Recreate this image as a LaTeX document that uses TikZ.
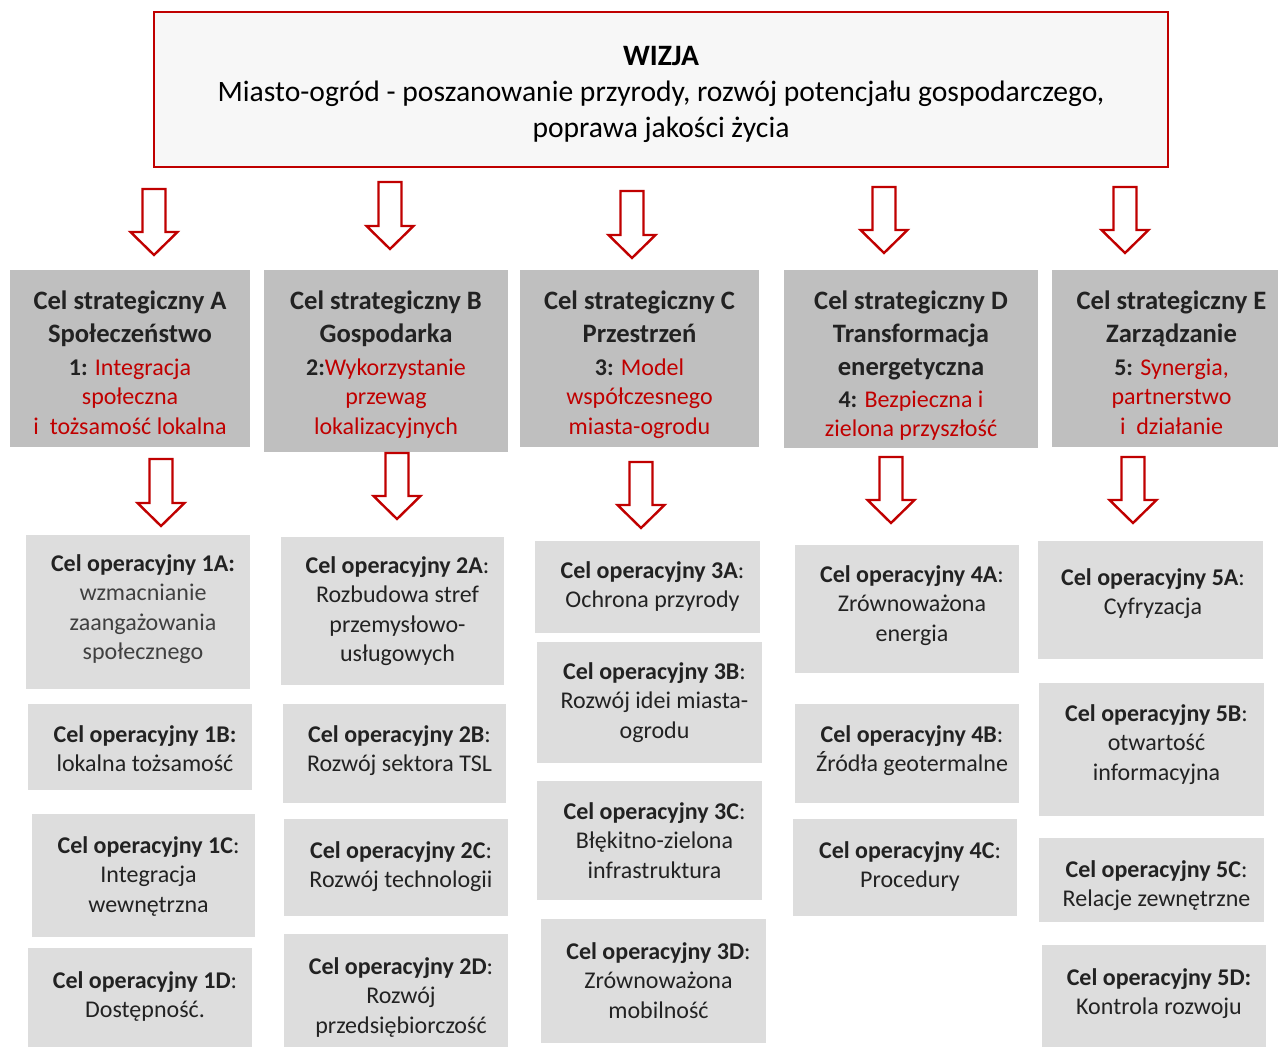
\documentclass[tikz,border=0pt]{standalone}
\usepackage{fontspec}
\setmainfont{Carlito}
\usetikzlibrary{positioning}

\definecolor{czerwony}{HTML}{C00000}
\definecolor{szaryciemny}{HTML}{BFBFBF}
\definecolor{szaryjasny}{HTML}{DDDDDD}
\definecolor{tlowizji}{HTML}{F7F7F7}
\definecolor{tekst}{HTML}{222222}
\definecolor{szarytekst}{HTML}{404040}

\newcommand{\tytul}[1]{{\fontsize{13.3}{16}\selectfont\bfseries #1}}
\newcommand{\czerw}[1]{\textcolor{czerwony}{#1}}

\begin{document}
\begin{tikzpicture}[x=0.5pt, y=-0.5pt,
            wizja/.style={draw=czerwony, line width=1.4pt, fill=tlowizji, inner sep=0pt},
            wizjatekst/.style={align=center, inner sep=0pt, text=black, font=\fontsize{14.8}{18}\selectfont},
            strategiczny/.style={fill=szaryciemny, inner sep=0pt},
            opbox/.style={fill=szaryjasny, inner sep=0pt},
            napis/.style={align=center, inner sep=0pt, text=tekst, font=\fontsize{12}{14.75}\selectfont},
            opnapis/.style={napis, xshift=2.5pt},
            strzalka/.style={draw=czerwony, fill=white, line width=1.2pt, line join=miter},]

        \useasboundingbox (0,0) rectangle (1278,1047);
        \clip (0,0) rectangle (1278,1047);

        % Wizja
        \node[wizja, minimum width=507pt, minimum height=77.5pt] (wizja) at (661,89.5) {};
        \node[wizjatekst, below=17.85pt of wizja.north] (wizja-t)
            {\textbf{WIZJA}\\ Miasto-ogród - poszanowanie przyrody, rozwój potencjału gospodarczego,\\ poprawa jakości życia};

        % Cele strategiczne
        \node[strategiczny, minimum width=120pt, minimum height=88.5pt] (celA) at (130,358.5) {};
        \node[napis, below=10.2pt of celA.north] (celA-t)
            {\tytul{Cel strategiczny A}\\[1.75pt] \tytul{Społeczeństwo}\\[1.75pt]
             \textbf{1:} \czerw{Integracja}\\ \czerw{społeczna}\\ \czerw{i~~tożsamość lokalna}};
        \node[strategiczny, minimum width=122pt, minimum height=91pt] (celB) at (386,361) {};
        \node[napis, below=10.2pt of celB.north] (celB-t)
            {\tytul{Cel strategiczny B}\\[1.75pt] \tytul{Gospodarka}\\[1.75pt]
             \textbf{2:}\czerw{Wykorzystanie}\\ \czerw{przewag}\\ \czerw{lokalizacyjnych}};
        \node[strategiczny, minimum width=119.5pt, minimum height=88.5pt] (celC) at (639.5,358.5) {};
        \node[napis, below=10.2pt of celC.north] (celC-t)
            {\tytul{Cel strategiczny C}\\[1.75pt] \tytul{Przestrzeń}\\[1.75pt]
             \textbf{3:} \czerw{Model}\\ \czerw{współczesnego}\\ \czerw{miasta-ogrodu}};
        \node[strategiczny, minimum width=127pt, minimum height=89pt] (celD) at (911,359) {};
        \node[napis, below=10.2pt of celD.north] (celD-t)
            {\tytul{Cel strategiczny D}\\[1.75pt] \tytul{Transformacja}\\[1.75pt] \tytul{energetyczna}\\[1.25pt]
             \textbf{4:} \czerw{Bezpieczna i}\\ \czerw{zielona przyszłość}};
        \node[strategiczny, minimum width=119.5pt, minimum height=88.5pt] (celE) at (1171.5,358.5) {};
        \node[napis, below=10.2pt of celE.north] (celE-t)
            {\tytul{Cel strategiczny E}\\[1.75pt] \tytul{Zarządzanie}\\[1.75pt]
             \textbf{5:} \czerw{Synergia,}\\ \czerw{partnerstwo}\\ \czerw{i~~działanie}};

        % Cele operacyjne 1
        \node[opbox, minimum width=112pt, minimum height=77pt] (op1A) at (138,612) {};
        \node[opnapis, below=9.75pt of op1A.north] (op1A-t)
            {\textbf{Cel operacyjny 1A:}\\ \textcolor{szarytekst}{wzmacnianie}\\
             \textcolor{szarytekst}{zaangażowania}\\ \textcolor{szarytekst}{społecznego}};
        \node[opbox, minimum width=112pt, minimum height=43pt] (op1B) at (140,747) {};
        \node[opnapis, below=10.75pt of op1B.north] (op1B-t)
            {\textbf{Cel operacyjny 1B:}\\ lokalna tożsamość};
        \node[opbox, minimum width=111.5pt, minimum height=61.5pt] (op1C) at (143.5,875.5) {};
        \node[opnapis, below=11.25pt of op1C.north] (op1C-t)
            {\textbf{Cel operacyjny 1C}:\\ Integracja\\ wewnętrzna};
        \node[opbox, minimum width=112pt, minimum height=51pt] (op1D) at (140,999) {};
        \node[opnapis, below=11.75pt of op1D.north] (op1D-t)
            {\textbf{Cel operacyjny 1D}:\\ Dostępność.};

        % Cele operacyjne 2
        \node[opbox, minimum width=111.5pt, minimum height=74pt] (op2A) at (392.5,611) {};
        \node[opnapis, below=9.75pt of op2A.north] (op2A-t)
            {\textbf{Cel operacyjny 2A}:\\ Rozbudowa stref\\ przemysłowo-\\ usługowych};
        \node[opbox, minimum width=111.5pt, minimum height=49.5pt] (op2B) at (394.5,753.5) {};
        \node[opnapis, below=10.75pt of op2B.north] (op2B-t)
            {\textbf{Cel operacyjny 2B}:\\ Rozwój sektora TSL};
        \node[opbox, minimum width=112pt, minimum height=48.5pt] (op2C) at (396,867.5) {};
        \node[opnapis, below=11.25pt of op2C.north] (op2C-t)
            {\textbf{Cel operacyjny 2C}:\\ Rozwój technologii};
        \node[opbox, minimum width=112pt, minimum height=58pt] (op2D) at (396,992) {};
        \node[opnapis, below=11.75pt of op2D.north] (op2D-t)
            {\textbf{Cel operacyjny 2D}:\\ Rozwój\\ przedsiębiorczość};

        % Cele operacyjne 3
        \node[opbox, minimum width=112.5pt, minimum height=46pt] (op3A) at (647.5,587) {};
        \node[opnapis, below=10.25pt of op3A.north] (op3A-t)
            {\textbf{Cel operacyjny 3A}:\\ Ochrona przyrody};
        \node[opbox, minimum width=112.5pt, minimum height=60.5pt] (op3B) at (649.5,702.5) {};
        \node[opnapis, below=10.25pt of op3B.north] (op3B-t)
            {\textbf{Cel operacyjny 3B}:\\ Rozwój idei miasta-\\ ogrodu};
        \node[opbox, minimum width=112.5pt, minimum height=59.5pt] (op3C) at (649.5,840.5) {};
        \node[opnapis, below=10.75pt of op3C.north] (op3C-t)
            {\textbf{Cel operacyjny 3C}:\\ Błękitno-zielona\\ infrastruktura};
        \node[opbox, minimum width=112.5pt, minimum height=62pt] (op3D) at (653.5,981) {};
        \node[opnapis, below=11.75pt of op3D.north] (op3D-t)
            {\textbf{Cel operacyjny 3D}:\\ Zrównoważona\\ mobilność};

        % Cele operacyjne 4
        \node[opbox, minimum width=112pt, minimum height=64pt] (op4A) at (907,609) {};
        \node[opnapis, below=10.25pt of op4A.north] (op4A-t)
            {\textbf{Cel operacyjny 4A}:\\ Zrównoważona\\ energia};
        \node[opbox, minimum width=112pt, minimum height=49.5pt] (op4B) at (907,753.5) {};
        \node[opnapis, below=10.75pt of op4B.north] (op4B-t)
            {\textbf{Cel operacyjny 4B}:\\ Źródła geotermalne};
        \node[opbox, minimum width=112pt, minimum height=48.5pt] (op4C) at (905,867.5) {};
        \node[opnapis, below=11.25pt of op4C.north] (op4C-t)
            {\textbf{Cel operacyjny 4C}:\\ Procedury};

        % Cele operacyjne 5
        \node[opbox, minimum width=112.5pt, minimum height=59pt] (op5A) at (1150.5,600) {};
        \node[napis, xshift=1.25pt, below=13.75pt of op5A.north] (op5A-t)
            {\textbf{Cel operacyjny 5A}:\\ Cyfryzacja};
        \node[opbox, minimum width=112.5pt, minimum height=66.5pt] (op5B) at (1151.5,749.5) {};
        \node[opnapis, below=10.75pt of op5B.north] (op5B-t)
            {\textbf{Cel operacyjny 5B}:\\ otwartość\\ informacyjna};
        \node[opbox, minimum width=112.5pt, minimum height=42pt] (op5C) at (1151.5,880) {};
        \node[opnapis, below=11.25pt of op5C.north] (op5C-t)
            {\textbf{Cel operacyjny 5C}:\\ Relacje zewnętrzne};
        \node[opbox, minimum width=112pt, minimum height=52.5pt] (op5D) at (1154,997.5) {};
        \node[opnapis, below=11.75pt of op5D.north] (op5D-t)
            {\textbf{Cel operacyjny 5D:}\\ Kontrola rozwoju};

        % Strzalki
        \foreach \x/\gora/\grot in {154/189/255, 390/182/249, 632/191/258, 884/187/253, 1125/187/253,
                                    161/459/526, 397/453/519, 641/462/528, 891/457/523, 1133/457/523}
            \draw[strzalka] (\x-11.5,\gora) -- (\x+11.5,\gora) -- (\x+11.5,\grot-23) -- (\x+23.5,\grot-23)
                -- (\x,\grot) -- (\x-23.5,\grot-23) -- (\x-11.5,\grot-23) -- cycle;
    \end{tikzpicture}
\end{document}
